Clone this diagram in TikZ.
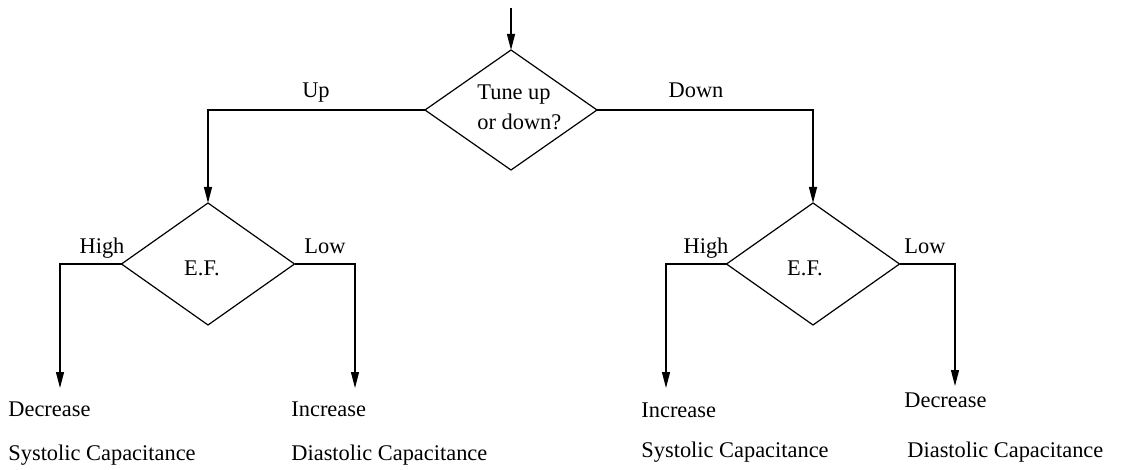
\documentclass[tikz,border=0pt]{standalone}
\usepackage{fontspec}
\setmainfont{Liberation Serif}
\usetikzlibrary{shapes.geometric,arrows.meta}
\tikzset{
  dia/.style={shape=diamond, draw, inner sep=0pt, outer sep=0pt,
    minimum width=86.5pt, minimum height=61pt, line width=0.6pt},
  lbl/.style={anchor=base, inner sep=0pt, font=\fontsize{11.2}{13}\selectfont},
  leaf/.style={anchor=base west, inner sep=0pt, font=\fontsize{11.2}{13}\selectfont},
  arr/.style={line width=0.6pt, -{Triangle[length=8pt,width=4pt]}},
  conn/.style={line width=0.6pt}
}
\begin{document}
\begin{tikzpicture}[x=0.5pt,y=-0.5pt]
\useasboundingbox (0,0) rectangle (1133,470);
% decision nodes
\node[dia, minimum width=86pt, minimum height=60pt] (top) at (511,110) {};
\node[dia] (ldia) at (208,264) {};
\node[dia] (rdia) at (813,264) {};
% texts inside diamonds
\node[leaf] (toptxt1) at (477,100) {Tune up};
\node[leaf] (toptxt2) at (477,130) {or down?};
\node[lbl] (ltxt) at (202,275) {E.F.};
\node[lbl] (rtxt) at (805,275) {E.F.};
% branch labels
\node[lbl] (up) at (316,98) {Up};
\node[lbl] (down) at (696,98) {Down};
\node[lbl] (lhigh) at (102,253) {High};
\node[lbl] (llow) at (325,253) {Low};
\node[lbl] (rhigh) at (706,253) {High};
\node[lbl] (rlow) at (925,253) {Low};
% outcome texts
\node[leaf] (o1a) at (8,416) {Decrease};
\node[leaf] (o1b) at (8,460) {Systolic Capacitance};
\node[leaf] (o2a) at (291,416) {Increase};
\node[leaf] (o2b) at (291,460) {Diastolic Capacitance};
\node[leaf] (o3a) at (641,417) {Increase};
\node[leaf] (o3b) at (641,457) {Systolic Capacitance};
\node[leaf] (o4a) at (904,407) {Decrease};
\node[leaf] (o4b) at (907,457) {Diastolic Capacitance};
% free ends
\coordinate (in) at (511,8);
\coordinate (a1) at (60,388);
\coordinate (a2) at (355,388);
\coordinate (a3) at (666,388);
\coordinate (a4) at (955,386);
% connectors
\draw[arr] (in) -- (top.north);
\draw[arr] (top.west) -| (ldia.north);
\draw[arr] (top.east) -| (rdia.north);
\draw[arr] (ldia.west) -| (a1);
\draw[arr] (ldia.east) -| (a2);
\draw[arr] (rdia.west) -| (a3);
\draw[arr] (rdia.east) -| (a4);
\end{tikzpicture}
\end{document}
